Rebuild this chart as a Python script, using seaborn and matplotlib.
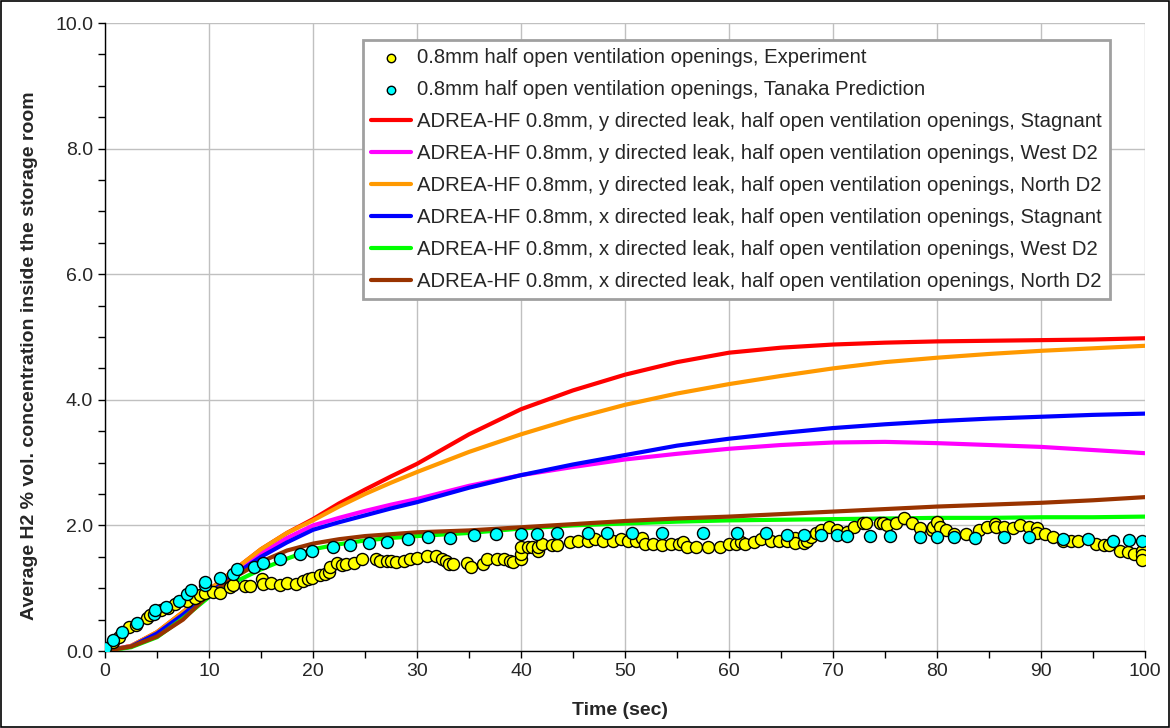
import numpy as np
import pandas as pd
import matplotlib
matplotlib.use("Agg")
import matplotlib.pyplot as plt
from matplotlib.ticker import MultipleLocator, FormatStrFormatter
from matplotlib.patches import Rectangle
import seaborn as sns

# time grid of the simulated curves (sec)
t_line = [0, 2.5, 5, 7.5, 10, 12.5, 15, 17.5, 20, 22.5, 25, 27.5, 30,
          35, 40, 45, 50, 55, 60, 65, 70, 75, 80, 85, 90, 95, 100]

y_stagnant = [0, 0.08, 0.3, 0.62, 0.97, 1.3, 1.62, 1.88, 2.1, 2.35, 2.57, 2.78, 2.98,
              3.45, 3.85, 4.15, 4.4, 4.6, 4.75, 4.83, 4.88, 4.91, 4.93, 4.94, 4.95, 4.96, 4.98]
y_west = [0, 0.08, 0.29, 0.6, 0.95, 1.27, 1.55, 1.8, 2.0, 2.12, 2.23, 2.33, 2.42,
          2.63, 2.8, 2.93, 3.05, 3.14, 3.22, 3.28, 3.32, 3.33, 3.31, 3.28, 3.25, 3.2, 3.15]
y_north = [0, 0.08, 0.3, 0.62, 0.97, 1.3, 1.62, 1.88, 2.08, 2.3, 2.5, 2.68, 2.85,
           3.17, 3.45, 3.7, 3.92, 4.1, 4.25, 4.38, 4.5, 4.6, 4.67, 4.73, 4.78, 4.82, 4.86]
x_stagnant = [0, 0.07, 0.28, 0.58, 0.92, 1.22, 1.5, 1.73, 1.93, 2.05, 2.16, 2.27, 2.37,
              2.6, 2.8, 2.97, 3.12, 3.27, 3.38, 3.47, 3.55, 3.61, 3.66, 3.7, 3.73, 3.76, 3.78]
x_west = [0, 0.06, 0.22, 0.52, 0.86, 1.1, 1.3, 1.47, 1.62, 1.7, 1.76, 1.8, 1.83,
          1.88, 1.95, 2.0, 2.03, 2.06, 2.08, 2.09, 2.1, 2.11, 2.12, 2.12, 2.13, 2.13, 2.14]
x_north = [0, 0.07, 0.23, 0.5, 0.9, 1.18, 1.42, 1.6, 1.71, 1.78, 1.83, 1.86, 1.89,
           1.92, 1.97, 2.02, 2.07, 2.11, 2.14, 2.18, 2.22, 2.26, 2.3, 2.33, 2.36, 2.4, 2.45]

# experiment points
t_exp = [0.8, 1.3, 2.3, 3.0, 4.0, 4.3, 5.4, 6.1, 6.7, 7.9, 8.7, 9.1, 9.6, 10.4, 11.1,
         12.0, 12.3, 13.5, 13.9, 15.1, 15.2, 16.0, 16.8, 17.5, 18.4, 19.0, 19.5,
         19.9, 20.7, 21.2, 21.5, 21.6, 22.3, 22.8, 23.2, 23.9, 24.7, 26.1, 26.4, 27.1,
         27.5, 28.0, 28.75, 29.3, 30.0, 31.0, 31.8, 32.4, 32.8, 33.1, 33.5, 34.8, 35.2,
         36.3, 36.75, 37.7, 38.4, 38.9, 39.2, 40.0, 40.0, 40.0, 40.7, 41.1, 41.6, 41.6,
         42.0, 43.0, 43.5, 44.7, 45.5, 46.4, 47.1, 47.9, 48.8, 49.6, 50.3, 51.1, 51.6,
         51.9, 52.7, 53.6, 54.4, 55.2, 55.6, 56.0, 56.8, 58.0, 59.1, 60.0, 60.7, 61.2,
         61.5, 62.4, 63.1, 64.0, 64.8, 65.6, 66.3, 66.3, 67.2, 67.5, 67.9, 68.4, 68.8,
         69.6, 70.4, 71.3, 72.0, 72.9, 73.2, 74.5, 74.8, 75.2, 76.1, 76.8, 77.6, 78.4,
         79.5, 79.6, 80.0, 80.3, 80.9, 81.6, 82.8, 84.0, 84.8, 85.6, 85.7, 86.4, 87.3,
         88.0, 88.8, 89.6, 89.6, 90.4, 91.2, 92.1, 92.9, 93.6, 95.3, 96.1, 96.5, 97.6,
         98.4, 98.9, 99.7, 99.7, 99.7]
c_exp = [0.15, 0.23, 0.38, 0.41, 0.52, 0.57, 0.66, 0.69, 0.75, 0.79, 0.84, 0.89, 0.93,
         0.94, 0.93, 1.02, 1.05, 1.03, 1.03, 1.15, 1.07, 1.08, 1.05, 1.08, 1.07, 1.12,
         1.15, 1.17, 1.21, 1.22, 1.26, 1.34, 1.40, 1.37, 1.39, 1.40, 1.46, 1.46, 1.44,
         1.43, 1.43, 1.41, 1.44, 1.46, 1.48, 1.52, 1.52, 1.47, 1.43, 1.39, 1.39, 1.40,
         1.33, 1.39, 1.46, 1.46, 1.46, 1.43, 1.42, 1.47, 1.55, 1.65, 1.65, 1.66, 1.60,
         1.66, 1.70, 1.69, 1.69, 1.73, 1.75, 1.75, 1.79, 1.75, 1.75, 1.79, 1.75, 1.75,
         1.80, 1.71, 1.71, 1.68, 1.71, 1.71, 1.74, 1.65, 1.65, 1.65, 1.65, 1.70, 1.70,
         1.74, 1.71, 1.74, 1.79, 1.75, 1.75, 1.75, 1.80, 1.72, 1.72, 1.75, 1.81, 1.88,
         1.93, 1.97, 1.93, 1.89, 1.98, 2.04, 2.04, 2.04, 2.04, 2.00, 2.04, 2.11, 2.04,
         1.96, 1.92, 1.97, 2.05, 1.98, 1.93, 1.87, 1.87, 1.93, 1.98, 2.03, 1.98, 1.97,
         1.96, 2.00, 1.98, 1.96, 1.88, 1.86, 1.81, 1.75, 1.75, 1.75, 1.71, 1.68, 1.68,
         1.60, 1.58, 1.54, 1.60, 1.53, 1.45]

# Tanaka prediction points
t_tan = [0.0, 0.74, 1.6, 3.1, 4.7, 4.8, 5.9, 7.1, 7.9, 8.3, 9.6, 9.6, 11.1, 12.3, 12.7,
         14.3, 15.2, 16.8, 18.75, 19.9, 21.9, 23.6, 25.4, 27.1, 29.1, 31.1, 33.2, 35.5,
         37.6, 40.0, 41.5, 43.5, 46.4, 48.3, 50.7, 53.6, 57.5, 60.8, 63.6, 65.6, 67.2,
         68.8, 70.4, 71.3, 73.6, 75.5, 78.4, 80.0, 81.6, 83.7, 86.4, 88.8, 92.1, 94.5,
         96.9, 98.5, 99.7]
c_tan = [0.04, 0.17, 0.30, 0.44, 0.59, 0.66, 0.70, 0.79, 0.90, 0.97, 1.05, 1.10, 1.17,
         1.23, 1.30, 1.34, 1.40, 1.46, 1.54, 1.59, 1.65, 1.69, 1.72, 1.74, 1.79, 1.81,
         1.80, 1.84, 1.86, 1.86, 1.86, 1.88, 1.88, 1.88, 1.88, 1.88, 1.88, 1.88, 1.88,
         1.85, 1.85, 1.85, 1.85, 1.83, 1.83, 1.83, 1.81, 1.81, 1.81, 1.80, 1.81, 1.81,
         1.79, 1.79, 1.75, 1.76, 1.75]

lines = [
    ("ADREA-HF 0.8mm, y directed leak, half open ventilation openings, Stagnant", y_stagnant, "#ff0000"),
    ("ADREA-HF 0.8mm, y directed leak, half open ventilation openings, West D2", y_west, "#ff00ff"),
    ("ADREA-HF 0.8mm, y directed leak, half open ventilation openings, North D2", y_north, "#ff9900"),
    ("ADREA-HF 0.8mm, x directed leak, half open ventilation openings, Stagnant", x_stagnant, "#0000ff"),
    ("ADREA-HF 0.8mm, x directed leak, half open ventilation openings, West D2", x_west, "#00ff00"),
    ("ADREA-HF 0.8mm, x directed leak, half open ventilation openings, North D2", x_north, "#993300"),
]

sns.set_style("white")
plt.rcParams['font.family'] = ['Liberation Sans', 'DejaVu Sans']

fig = plt.figure(figsize=(11.7, 7.28), dpi=100)
ax = fig.add_axes([105 / 1170, 1 - 651 / 728, 1040 / 1170, 628 / 728])

for label, vals, col in lines:
    sns.lineplot(x=t_line, y=vals, color=col, linewidth=3, label=label, ax=ax,
                 estimator=None, sort=False, zorder=3)

sns.scatterplot(x=t_exp, y=c_exp, color="#ffff00", edgecolor="black", linewidth=1,
                s=75, label="0.8mm half open ventilation openings, Experiment", ax=ax, zorder=4)
sns.scatterplot(x=t_tan, y=c_tan, color="#00ffff", edgecolor="black", linewidth=1,
                s=75, label="0.8mm half open ventilation openings, Tanaka Prediction", ax=ax, zorder=5)

ax.set_xlim(0, 100)
ax.set_ylim(0, 10)
ax.xaxis.set_major_locator(MultipleLocator(10))
ax.xaxis.set_minor_locator(MultipleLocator(5))
ax.yaxis.set_major_locator(MultipleLocator(2))
ax.yaxis.set_minor_locator(MultipleLocator(0.5))
ax.yaxis.set_major_formatter(FormatStrFormatter("%.1f"))
ax.grid(True, which="major", color="#c0c0c0", linewidth=1)
ax.set_axisbelow(True)
ax.tick_params(which="both", direction="out", length=5, width=1, color="black",
               labelsize=14, left=True, bottom=True)
for side in ["top", "right"]:
    ax.spines[side].set_visible(False)
for side in ["left", "bottom"]:
    ax.spines[side].set_color("black")
    ax.spines[side].set_linewidth(1)

ax.set_xlabel("Time (sec)", fontsize=14, fontweight="bold")
ax.set_ylabel("Average H2 % vol. concentration inside the storage room", fontsize=14,
              fontweight="bold")
ax.xaxis.set_label_coords(0.495, -0.082)
ax.yaxis.set_label_coords(-0.064, 0.471)

handles, labels = ax.get_legend_handles_labels()
order = [6, 7, 0, 1, 2, 3, 4, 5]
leg = ax.legend([handles[i] for i in order], [labels[i] for i in order],
                loc="upper left", bbox_to_anchor=(0.248, 0.973), borderaxespad=0,
                fontsize=14.6, frameon=True, fancybox=False, framealpha=1,
                edgecolor="#a0a0a0", handlelength=1.95, handletextpad=0.3,
                labelspacing=0.64, markerscale=0.7, borderpad=0.4)
leg.get_frame().set_linewidth(2)

fig.patches.append(Rectangle((0.001, 0.001), 0.998, 0.998, transform=fig.transFigure,
                             fill=False, edgecolor="black", linewidth=1.2))

fig.savefig("out.png", dpi=100)
